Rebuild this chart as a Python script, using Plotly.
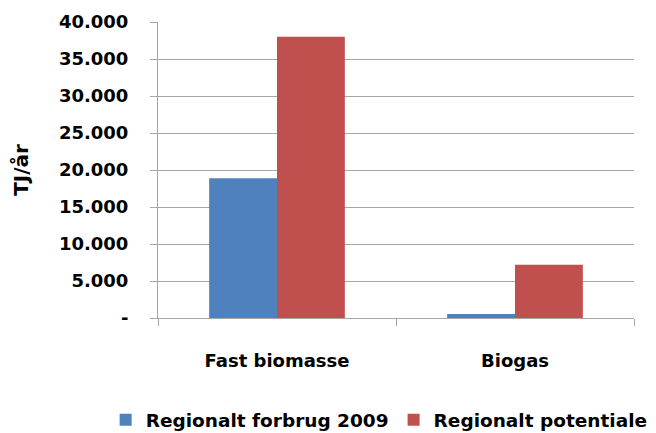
import plotly.graph_objects as go

categories = ["Fast biomasse", "Biogas"]
series_names = ["Regionalt forbrug 2009", "Regionalt potentiale"]
forbrug_2009 = [18900, 550]
potentiale = [38000, 7200]
y_tick_values = [0, 5000, 10000, 15000, 20000, 25000, 30000, 35000, 40000]
y_tick_labels = ["-", "5.000", "10.000", "15.000", "20.000", "25.000", "30.000", "35.000", "40.000"]

FONT = "DejaVu Sans"
# page body has an 8px default margin -> figure is placed at (8, 8)
fig = go.Figure()
fig.add_trace(go.Bar(x=categories, y=forbrug_2009, name=series_names[0], marker_color="#4F81BD", marker_line_width=0))
fig.add_trace(go.Bar(x=categories, y=potentiale, name=series_names[1], marker_color="#C0504D", marker_line_width=0))

fig.update_layout(
    width=648, height=425,
    margin=dict(l=150, r=22, t=14, b=115, autoexpand=False),
    paper_bgcolor="white", plot_bgcolor="white",
    barmode="group", bargap=0.43, bargroupgap=0,
    font=dict(family=FONT, size=18, color="black"),
    showlegend=True,
    legend=dict(orientation="h", xref="paper", x=-0.11, xanchor="left",
                yref="paper", y=-0.345, yanchor="middle",
                font=dict(family=FONT, size=18.5, color="black", weight="bold"),
                itemwidth=30, tracegroupgap=0),
)
fig.update_yaxes(
    range=[0, 40000], tickvals=y_tick_values, ticktext=y_tick_labels,
    showgrid=True, gridcolor="#A6A6A6", gridwidth=1,
    showline=True, linecolor="#A6A6A6", linewidth=1,
    ticks="outside", ticklen=7, tickcolor="#A6A6A6",
    ticklabelstandoff=18,
    tickfont=dict(family=FONT, size=18, color="black", weight="bold"),
    title=dict(text="TJ/år", font=dict(family=FONT, size=20, color="black", weight="bold"), standoff=24),
    zeroline=False,
)
fig.update_xaxes(
    showline=True, linecolor="#A6A6A6", linewidth=1,
    ticks="outside", tickson="boundaries", ticklen=7, tickcolor="#A6A6A6",
    ticklabelstandoff=26,
    tickfont=dict(family=FONT, size=18, color="black", weight="bold"),
    showgrid=False,
)
fig.write_html("out.html")
